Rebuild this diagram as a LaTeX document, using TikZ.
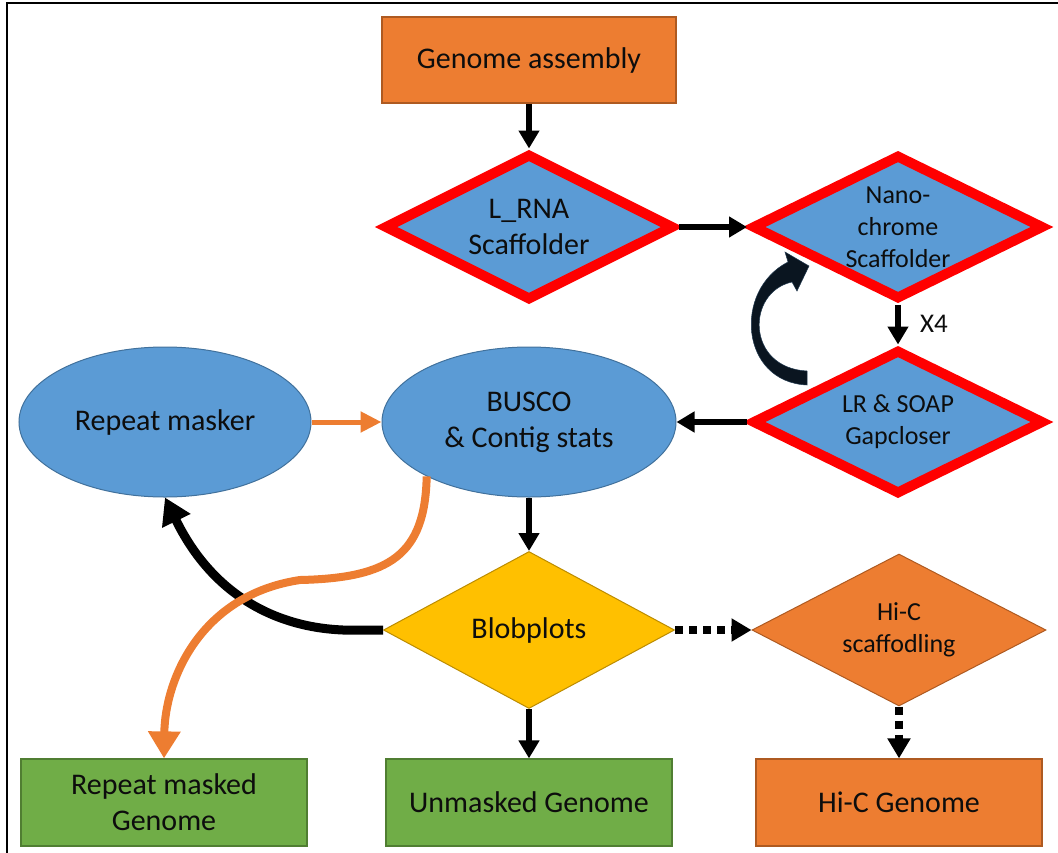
\documentclass[tikz,border=0pt]{standalone}
\usepackage{fontspec}
\setmainfont{Carlito}
\usetikzlibrary{shapes.geometric,arrows.meta}
\definecolor{orF}{HTML}{ED7D31}
\definecolor{orD}{HTML}{AE5A21}
\definecolor{bluF}{HTML}{5B9BD5}
\definecolor{bluD}{HTML}{41719C}
\definecolor{grnF}{HTML}{70AD47}
\definecolor{grnD}{HTML}{507E32}
\definecolor{yelF}{HTML}{FFC000}
\definecolor{yelD}{HTML}{BC8C00}
\definecolor{txt}{HTML}{0D0D0D}
\definecolor{loopc}{HTML}{0A1520}
\begin{document}
\begin{tikzpicture}[x=1pt,y=-1pt,
  big/.style={font=\fontsize{30}{36}\selectfont},
  small/.style={font=\fontsize{26}{32}\selectfont},
  rectbox/.style={rectangle, line width=1.2pt, inner sep=0pt, align=center, text=txt,
    minimum width=286pt, minimum height=87pt},
  orbox/.style={rectbox, fill=orF, draw=orD},
  grbox/.style={rectbox, fill=grnF, draw=grnD},
  reddia/.style={diamond, fill=bluF, draw=red, line width=10pt, inner sep=-40pt,
    align=center, text=txt},
  plaindia/.style={diamond, line width=1pt, inner sep=-40pt, align=center, text=txt},
  ell/.style={ellipse, fill=bluF, draw=bluD, line width=1pt, inner sep=0pt,
    align=center, text=txt},
  arr/.style={draw=black, line width=6pt, -{Triangle[width=20pt,length=18pt]}},
  oarr/.style={draw=orF, line width=5pt, -{Triangle[width=20pt,length=21pt]}},
  dotarr/.style={draw=black, line width=8pt, dash pattern=on 8pt off 6pt,
    -{Triangle[width=22pt,length=20pt]}}
]
\useasboundingbox (0,0) rectangle (1058,852);
% frame
\draw[line width=1.6pt, line cap=rect] (7,852) -- (7,3) -- (1058,3);

% nodes
\node[orbox, big, minimum width=294pt, minimum height=86pt] (ga) at (529,60) {Genome assembly};
\node[reddia, big, minimum width=290pt, minimum height=147pt] (lrna) at (529,227) {L\_RNA\\Scaffolder};
\node[reddia, small, minimum width=292pt, minimum height=145pt] (nano) at (898,227) {Nano-\\chrome\\Scaffolder};
\node[reddia, small, minimum width=292pt, minimum height=145pt] (lr) at (898,422) {LR \& SOAP\\Gapcloser};
\node[ell, big, minimum width=292pt, minimum height=150pt] (rm) at (165,422) {Repeat masker};
\node[ell, big, minimum width=294pt, minimum height=150pt] (busco) at (529,422) {BUSCO\\\& Contig stats};
\node[plaindia, big, fill=yelF, draw=yelD, minimum width=291pt, minimum height=157pt] (blob) at (529,630) {Blobplots};
\node[plaindia, small, fill=orF, draw=orD, minimum width=294pt, minimum height=152pt] (hic) at (899,630) {Hi-C\\scaffodling};
\node[grbox, big] (rmg) at (164,802.5) {Repeat masked\\Genome};
\node[grbox, big] (ug) at (529,802.5) {Unmasked Genome};
\node[orbox, big] (hicg) at (899,802.5) {Hi-C Genome};
\node[font=\fontsize{27}{32}\selectfont, text=txt] (x4) at (934,324) {X4};

% connectors
\draw[arr] (ga.south) -- (lrna.north);
\draw[arr] (lrna.east) -- (nano.west);
\draw[arr] (nano.south) -- (lr.north);
\draw[arr] (lr.west) -- (busco.east);
\draw[oarr] (rm.east) -- (busco.west);
\draw[arr] (busco.south) -- (blob.north);
\draw[arr] (blob.south) -- (ug.north);
\draw[dotarr] (blob.east) -- (hic.west);
\draw[dotarr] (hic.south) -- (hicg.north);

% black curved arrow Blobplots -> Repeat masker
\draw[line width=9pt, -{Triangle[width=30pt,length=26pt]}]
  (blob.west) -- ++(-40,0) .. controls (270,627) and (210,590) .. (rm.south);
% orange curved arrow BUSCO -> Repeat masked Genome
\draw[draw=orF, line width=8pt, -{Triangle[width=31pt,length=27pt]}]
  (busco.-152) .. controls (425,555) and (390,578) .. (300,580)
  .. controls (200,595) and (165,680) .. (rmg.north);

% loop arrow (x4 iteration)
\fill[loopc, draw=bluD!50!black, line width=0.5pt]
  (807,385) .. controls (740,382) and (733,290) .. (788,262)
  -- (785,252) -- (809,266) -- (797,291) -- (792,282)
  .. controls (746,292) and (746,368) .. (807,371) -- cycle;
\end{tikzpicture}
\end{document}
